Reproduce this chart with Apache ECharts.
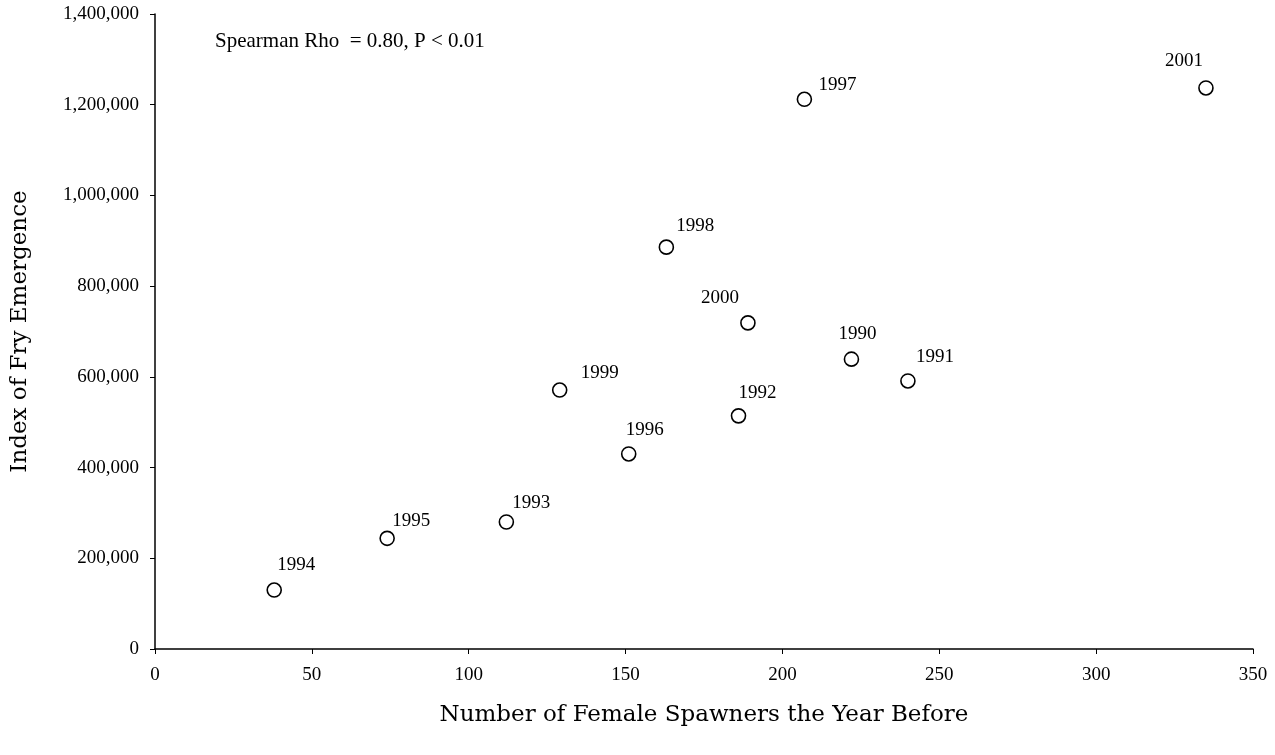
<!DOCTYPE html>
<html>
<head>
<meta charset="utf-8">
<script src="https://cdn.jsdelivr.net/npm/echarts@6/dist/echarts.min.js"></script>
<style>html,body{margin:0;padding:0;background:#fff}#c{width:1275px;height:755px}</style>
</head>
<body>
<div id="c"></div>
<script>
const years = ['1994','1995','1993','1999','1996','1992','2000','1998','1997','1990','1991','2001'];
const spawners = [38, 74, 112, 129, 151, 186, 189, 163, 207, 222, 240, 335];
const fryIndex = [130000, 244000, 280000, 571000, 430000, 514000, 719000, 886000, 1212000, 639000, 591000, 1237000];
const xTicks = [0, 50, 100, 150, 200, 250, 300, 350];
const yTicks = [0, 200000, 400000, 600000, 800000, 1000000, 1200000, 1400000];
const labelOffsets = [[22,-25],[24,-17],[25,-19],[40,-17],[16,-24],[19,-23],[-28,-25],[29,-21],[33,-14],[6,-25],[27,-24],[-22,-27]];

const font = 'Liberation Serif, Times New Roman, serif';
const titleFont = 'DejaVu Serif, serif';
const chart = echarts.init(document.getElementById('c'));
const data = years.map((y, i) => ({
  value: [spawners[i], fryIndex[i]],
  name: y,
  label: { offset: labelOffsets[i] }
}));
chart.setOption({
  animation: false,
  backgroundColor: '#fff',
  grid: { left: 155, right: 22, top: 14, bottom: 106, containLabel: false, outerBoundsMode: 'none' },
  xAxis: {
    type: 'value', min: xTicks[0], max: xTicks[xTicks.length-1], interval: 50,
    name: 'Number of Female Spawners the Year Before', nameLocation: 'middle', nameGap: 55,
    nameTextStyle: { fontFamily: titleFont, fontSize: 23, color: '#000' },
    axisLine: { show: true, lineStyle: { color: '#000', width: 1.5 } },
    axisTick: { show: true, inside: false, length: 5, lineStyle: { color: '#000' } },
    axisLabel: { fontFamily: font, fontSize: 19, color: '#000', margin: 17 },
    splitLine: { show: false }
  },
  yAxis: {
    type: 'value', min: yTicks[0], max: yTicks[yTicks.length-1], interval: 200000,
    name: 'Index of Fry Emergence', nameLocation: 'middle', nameGap: 123,
    nameTextStyle: { fontFamily: titleFont, fontSize: 23, color: '#000' },
    axisLine: { show: true, lineStyle: { color: '#000', width: 1.5 } },
    axisTick: { show: true, inside: false, length: 5, lineStyle: { color: '#000' } },
    axisLabel: { fontFamily: font, fontSize: 19, color: '#000', margin: 16,
      formatter: v => v.toLocaleString('en-US') },
    splitLine: { show: false }
  },
  graphic: [{
    type: 'text', left: 215, top: 31,
    style: { text: 'Spearman Rho  = 0.80, P < 0.01', font: '21px ' + font, fill: '#000' }
  }],
  series: [{
    type: 'scatter',
    symbol: 'circle', symbolSize: 14,
    itemStyle: { color: '#fff', borderColor: '#000', borderWidth: 1.6, opacity: 1 },
    label: { show: true, position: 'inside', formatter: p => p.name,
      fontFamily: font, fontSize: 19, color: '#000',
      textBorderWidth: 0, textBorderColor: 'transparent' },
    data: data
  }]
});
</script>
</body>
</html>
